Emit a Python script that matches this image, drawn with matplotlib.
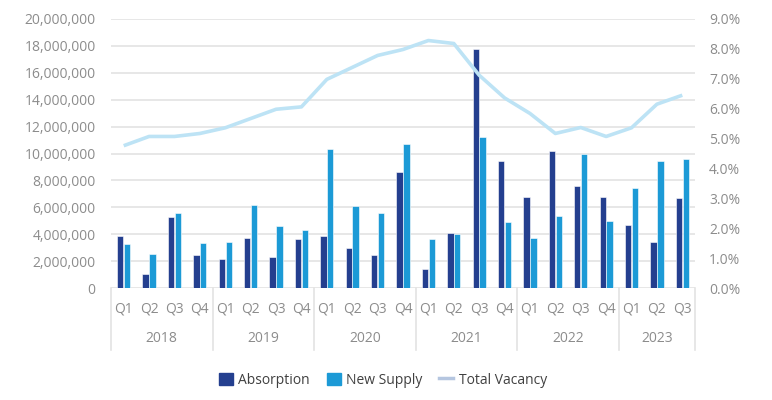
import matplotlib
matplotlib.use('Agg')
import matplotlib.pyplot as plt
import matplotlib.transforms as mtransforms
from matplotlib.lines import Line2D
from matplotlib.patches import Patch
from matplotlib.ticker import FuncFormatter, MultipleLocator
import numpy as np

plt.rcParams['font.family'] = ['Open Sans', 'DejaVu Sans']

years = ['2018', '2019', '2020', '2021', '2022', '2023']
quarters_per_year = [4, 4, 4, 4, 4, 3]
quarters = ['Q1', 'Q2', 'Q3', 'Q4'] * 5 + ['Q1', 'Q2', 'Q3']

absorption = [3.9, 1.05, 5.3, 2.45, 2.15, 3.75, 2.3, 3.65,
              3.85, 2.95, 2.45, 8.65, 1.38, 4.1, 17.8, 9.45,
              6.75, 10.15, 7.55, 6.75, 4.7, 3.4, 6.7]
new_supply = [3.25, 2.55, 5.55, 3.35, 3.45, 6.15, 4.6, 4.3,
              10.3, 6.1, 5.55, 10.7, 3.65, 4.05, 11.25, 4.9,
              3.72, 5.35, 9.95, 4.95, 7.45, 9.45, 9.6]
vacancy = [4.76, 5.07, 5.07, 5.17, 5.36, 5.67, 5.98, 6.06,
           6.98, 7.38, 7.78, 7.98, 8.28, 8.18, 7.12, 6.36,
           5.84, 5.17, 5.37, 5.07, 5.36, 6.15, 6.45]

ABS_C = '#243f8f'
SUP_C = '#1c9ad6'
VAC_C = '#bde3f5'
TXT_C = '#8c8c8c'
GRID_C = '#e3e3e3'

fig = plt.figure(figsize=(7.72, 4.0), dpi=100)
ax = fig.add_axes([111 / 772, 1 - 288 / 400, 584 / 772, 269 / 400])

x = np.arange(len(quarters))
w = 0.25
ax.bar(x - w / 2 - 0.01, np.array(absorption) * 1e6, width=w, color=ABS_C,
       edgecolor='white', linewidth=0.4, zorder=3)
ax.bar(x + w / 2 + 0.01, np.array(new_supply) * 1e6, width=w, color=SUP_C,
       edgecolor='white', linewidth=0.4, zorder=3)

ax.set_xlim(-0.5, len(quarters) - 0.5)
ax.set_ylim(0, 20e6)
ax.yaxis.set_major_locator(MultipleLocator(2e6))
ax.yaxis.set_major_formatter(FuncFormatter(lambda v, p: f'{int(v):,}'))
ax.grid(axis='y', color=GRID_C, linewidth=1.2, zorder=0)
ax.set_axisbelow(True)
for s in ax.spines.values():
    s.set_visible(False)
ax.tick_params(axis='y', length=0, pad=11, labelsize=10, labelcolor=TXT_C)
ax.set_xticks([])

ax2 = ax.twinx()
ax2.plot(x, vacancy, color=VAC_C, linewidth=2.6, zorder=4, solid_capstyle='butt')
ax2.set_ylim(0, 9)
ax2.yaxis.set_major_locator(MultipleLocator(1))
ax2.yaxis.set_major_formatter(FuncFormatter(lambda v, p: f'{v:.1f}%'))
for s in ax2.spines.values():
    s.set_visible(False)
ax2.tick_params(axis='y', length=0, pad=10, labelsize=10, labelcolor=TXT_C)
ax2.set_xticks([])

# hierarchical category axis
trans = mtransforms.blended_transform_factory(ax.transData, ax.transAxes)
for xi, q in zip(x, quarters):
    ax.text(xi, -0.078, q, transform=trans, ha='center', va='center',
            fontsize=10, color=TXT_C)
bounds = [-0.5]
for n in quarters_per_year:
    bounds.append(bounds[-1] + n)
for yr, lo, hi in zip(years, bounds[:-1], bounds[1:]):
    ax.text((lo + hi) / 2, -0.186, yr, transform=trans, ha='center', va='center',
            fontsize=10, color=TXT_C)
for b in bounds:
    ax.plot([b, b], [0, -0.23], transform=trans, color=GRID_C, linewidth=1.2,
            clip_on=False)

handles = [Patch(color=ABS_C), Patch(color=SUP_C),
           Line2D([0], [0], color='#b5c6e0', linewidth=2.5)]
fig.legend(handles, ['Absorption', 'New Supply', 'Total Vacancy'],
           loc='center', bbox_to_anchor=(383 / 772, 1 - 380 / 400), ncol=3,
           frameon=False, fontsize=10, handlelength=1.0, handleheight=1.0,
           handletextpad=0.4, columnspacing=1.2, labelcolor='#404040')

fig.savefig('out.png', dpi=100)
